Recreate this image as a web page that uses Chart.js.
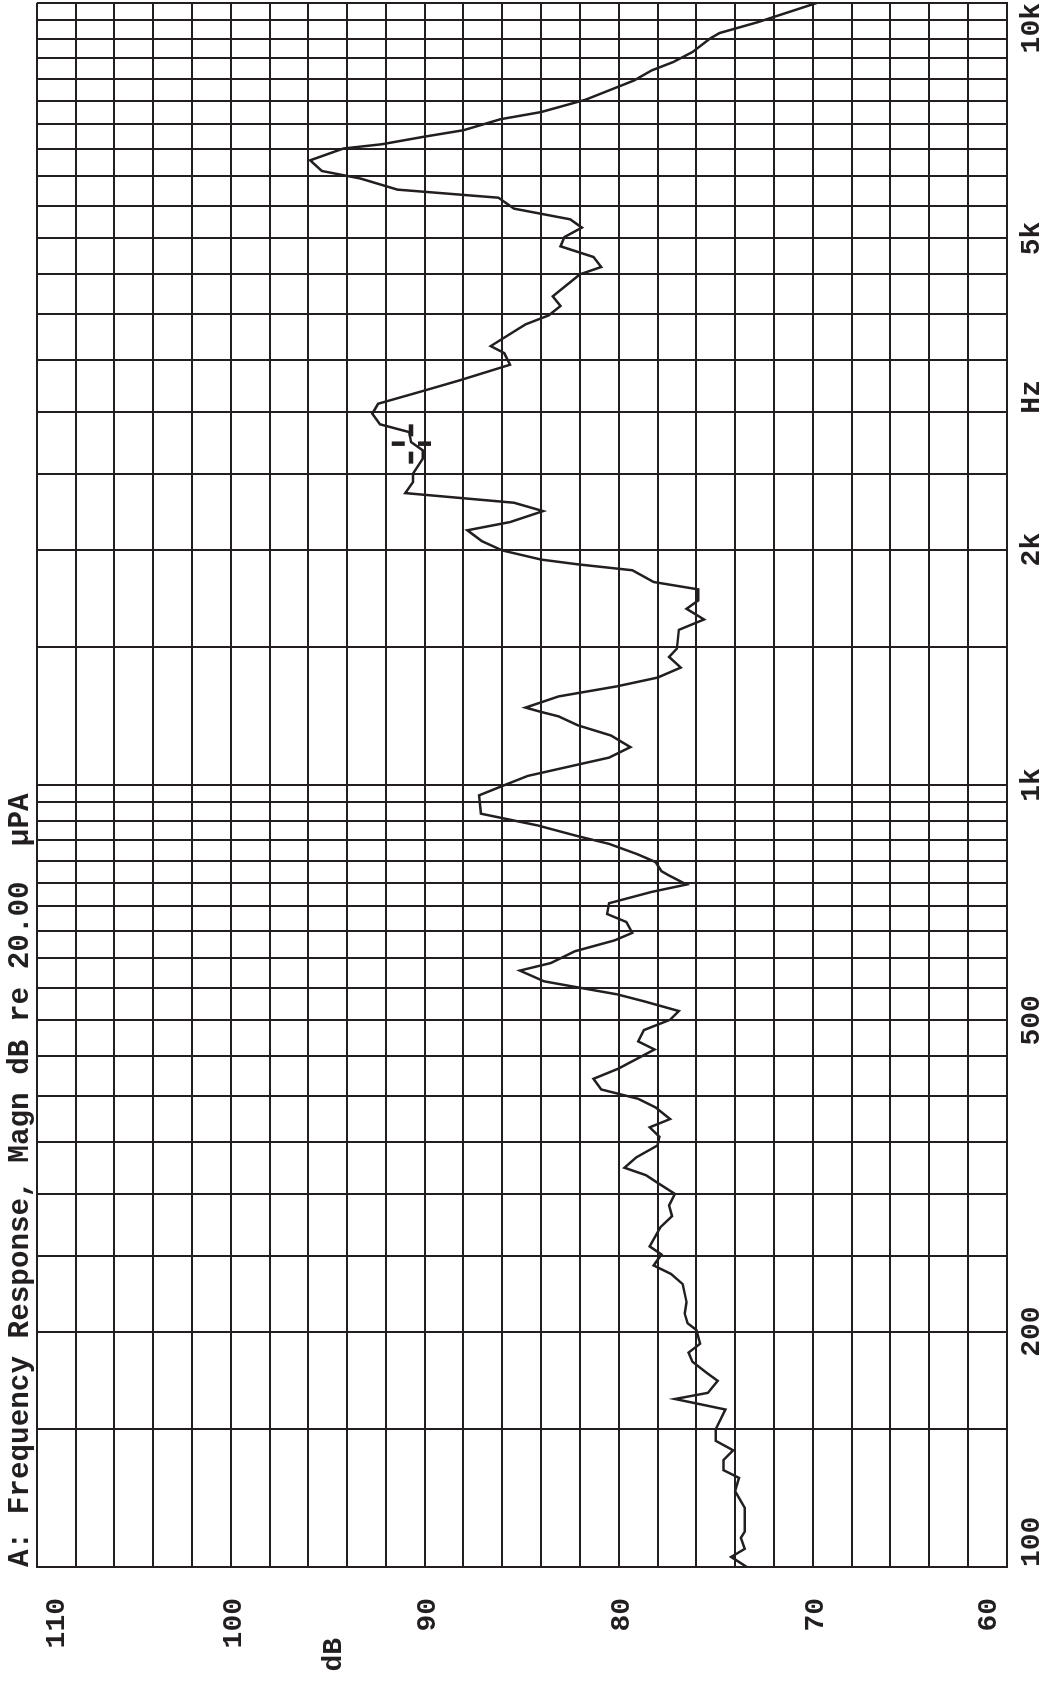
<!DOCTYPE html>
<html>
<head>
<meta charset="utf-8">
<script src="https://cdn.jsdelivr.net/npm/chart.js@4.4.1/dist/chart.umd.min.js"></script>
<style>
  html, body { margin: 0; padding: 0; background: #fff; overflow: hidden; }
  #wrap { position: relative; width: 1043px; height: 1681px; overflow: hidden; background: #fff; }
  /* chart is drawn landscape, then turned a quarter left like the printout */
  #c { position: absolute; left: 0; top: 0; width: 1681px; height: 1043px;
       transform-origin: 0 0; transform: translateY(1681px) rotate(-90deg); }
</style>
</head>
<body>
<div id="wrap"><canvas id="c" width="1681" height="1043"></canvas></div>
<script>
// measured curve (Hz, dB re 20 uPa)
const freqHz = [100, 103, 105.5, 109, 111, 119, 125, 130, 133, 137, 141, 145, 150, 159, 164, 167, 173, 177, 183, 188,
  193, 201, 205, 211, 218, 230, 237, 243, 251, 257, 272, 281, 290, 300, 310, 317, 324, 334, 346, 355,
  365, 374, 387, 397, 408, 421, 434, 459, 470, 486, 501, 514, 529, 540, 551, 561, 579, 592, 613, 633,
  647, 668, 684, 706, 730, 746, 766, 776, 797, 815, 841, 860, 888, 919, 970, 997, 1027, 1062, 1084, 1118,
  1157, 1192, 1224, 1240, 1256, 1298, 1337, 1372, 1413, 1458, 1494, 1579, 1628, 1680, 1722, 1779, 1818, 1882, 1915, 1942,
  1995, 2050, 2117, 2169, 2240, 2296, 2362, 2440, 2501, 2614, 2679, 2745, 2827, 2892, 2985, 3073, 3190, 3292, 3447, 3567,
  3641, 3814, 3882, 3987, 4098, 4216, 4498, 4596, 4734, 4885, 5020, 5162, 5289, 5458, 5637, 5772, 5963, 6098, 6293, 6515,
  6598, 6741, 6876, 7101, 7254, 7523, 7962, 8201, 8402, 8654, 9005, 9154, 9456, 10000];
const levelDb = [73.4, 74.2, 73.5, 73.7, 73.5, 73.5, 74.0, 73.8, 74.6, 74.6, 74.1, 75.0, 75.0, 74.5, 77.1, 75.4, 74.9, 75.45, 76.2, 76.4,
  75.8, 76.0, 76.45, 76.6, 76.5, 76.7, 77.3, 78.2, 77.8, 78.4, 77.85, 77.25, 77.4, 77.1, 78.0, 78.6, 79.7, 79.1, 78.0, 77.9,
  78.4, 77.35, 78.1, 79.0, 80.9, 81.3, 80.0, 78.15, 79.0, 78.7, 77.35, 76.9, 78.7, 80.1, 82.1, 83.85, 85.1, 83.5, 82.25, 80.2,
  79.3, 79.6, 80.6, 80.5, 78.3, 76.5, 77.4, 77.8, 78.1, 79.0, 80.5, 82.1, 84.2, 87.1, 87.2, 86.0, 84.7, 82.1, 80.5, 79.4,
  80.4, 82.1, 83.1, 84.0, 84.8, 83.1, 80.1, 78.0, 76.8, 77.4, 77.0, 76.9, 75.6, 76.5, 75.9, 75.9, 78.2, 79.3, 82.1, 84.0,
  86.0, 87.05, 87.8, 85.6, 83.9, 85.4, 91.0, 90.6, 90.6, 90.1, 90.1, 90.7, 90.8, 92.3, 92.7, 92.4, 90.1, 88.2, 85.6, 85.9,
  86.6, 85.3, 84.8, 83.6, 83.0, 83.4, 82.0, 80.9, 81.3, 83.0, 82.8, 81.9, 82.5, 85.4, 86.2, 91.4, 93.3, 95.3, 95.9, 94.2,
  92.2, 90.1, 88.0, 86.1, 84.0, 81.7, 79.2, 78.3, 77.2, 76.2, 75.3, 74.8, 72.8, 69.8];

// cursor cross
const markerFreq = 2732;
const markerDb = 90.7;
const markerFreqSpan = [2576, 2892];
const markerDbSpan = [91.7, 89.68];

// axes
const freqTickValues = [100, 200, 500, 1000, 2000, 5000, 10000];
const freqTickText = ['100', '200', '500', '1k', '2k', '5k', '10k'];
const unitTickAt = 3136;
const unitTickText = 'Hz';
const dbTickValues = [60, 70, 80, 90, 100, 110];
const yUnitText = 'dB';
const yUnitAt = 94.7;
const titleText = 'A: Frequency Response, Magn dB re 20.00  \u00b5PA';

const ink = '#231f20';
const mono = "'Liberation Mono', 'DejaVu Sans Mono', monospace";

// grid: every 50 Hz up to 1k, every 500 Hz above, every 2 dB
const freqGrid = [];
for (let f = 100; f <= 1000; f += 50) freqGrid.push(f);
for (let f = 1500; f <= 10000; f += 500) freqGrid.push(f);
freqGrid.push(unitTickAt);
freqGrid.sort(function (a, b) { return a - b; });
const dbGrid = [];
for (let d = 60; d <= 110; d += 2) dbGrid.push(d);

const curve = freqHz.map(function (f, i) { return { x: f, y: levelDb[i] }; });

// "dB" sits beside the labels, not centred like an axis title
const yUnitPlugin = {
  id: 'yUnit',
  afterDraw: function (chart) {
    const ctx = chart.ctx;
    const y = chart.scales.y;
    ctx.save();
    ctx.font = 'bold 28px ' + mono;
    ctx.fillStyle = ink;
    ctx.textAlign = 'right';
    ctx.textBaseline = 'middle';
    ctx.fillText(yUnitText, y.left + 11, y.getPixelForValue(yUnitAt));
    ctx.restore();
  }
};

new Chart(document.getElementById('c'), {
  type: 'line',
  data: {
    datasets: [{
      data: curve,
      borderColor: ink,
      borderWidth: 2.5,
      pointRadius: 0,
      tension: 0,
      fill: false
    }, {
      data: [{ x: markerFreqSpan[0], y: markerDb }, { x: markerFreqSpan[1], y: markerDb }],
      borderColor: ink,
      borderWidth: 4.5,
      borderDash: [12, 15.3],
      pointRadius: 0,
      fill: false
    }, {
      data: [{ x: markerFreq, y: markerDbSpan[0] }, { x: markerFreq, y: markerDbSpan[1] }],
      borderColor: ink,
      borderWidth: 4.5,
      borderDash: [13, 13.4],
      pointRadius: 0,
      fill: false
    }]
  },
  options: {
    responsive: false,
    animation: false,
    layout: { padding: { left: 32, right: 3, top: 0, bottom: 0 } },
    plugins: {
      legend: { display: false },
      tooltip: { enabled: false },
      title: {
        display: true,
        text: titleText,
        align: 'start',
        fullSize: false,
        color: ink,
        font: { family: mono, size: 29.3, weight: 'bold', lineHeight: 1 },
        padding: { top: 6, bottom: 1.4 }
      }
    },
    scales: {
      x: {
        type: 'logarithmic',
        min: 100,
        max: 10000,
        afterBuildTicks: function (s) {
          s.ticks = freqGrid.map(function (v) { return { value: v }; });
        },
        afterFit: function (s) {
          s.height = 36.3;
          s.paddingLeft = 0; s.paddingRight = 0;
        },
        grid: {
          color: function (c) {
            return c.tick && c.tick.value === unitTickAt ? 'rgba(0,0,0,0)' : ink;
          },
          lineWidth: 2,
          drawTicks: false
        },
        border: { color: ink, width: 2 },
        ticks: {
          autoSkip: false,
          maxRotation: 0,
          minRotation: 0,
          align: 'inner',
          padding: 8,
          color: ink,
          font: { family: mono, size: 28, weight: 'bold' },
          callback: function (value) {
            const i = freqTickValues.indexOf(value);
            if (i >= 0) return freqTickText[i];
            if (value === unitTickAt) return unitTickText;
            return '';
          }
        }
      },
      y: {
        type: 'linear',
        min: 60,
        max: 110,
        afterBuildTicks: function (s) {
          s.ticks = dbGrid.map(function (v) { return { value: v }; });
        },
        afterFit: function (s) {
          s.width = 82;
          s.paddingTop = 0; s.paddingBottom = 0;
        },
        grid: { color: ink, lineWidth: 2, drawTicks: false },
        border: { color: ink, width: 2 },
        ticks: {
          autoSkip: false,
          padding: 31,
          labelOffset: 3,
          color: ink,
          font: function (c) {
            let lh = 1.2;
            if (c.tick && c.tick.value === 60) lh = 1.5;
            return { family: mono, size: 28, weight: 'bold', lineHeight: lh };
          },
          callback: function (value) {
            if (dbTickValues.indexOf(value) < 0) return '';
            // end labels are pushed inside the frame
            if (value === 110) return ['', String(value)];
            if (value === 60) return [String(value), ''];
            return String(value);
          }
        }
      }
    }
  },
  plugins: [yUnitPlugin]
});
</script>
</body>
</html>
